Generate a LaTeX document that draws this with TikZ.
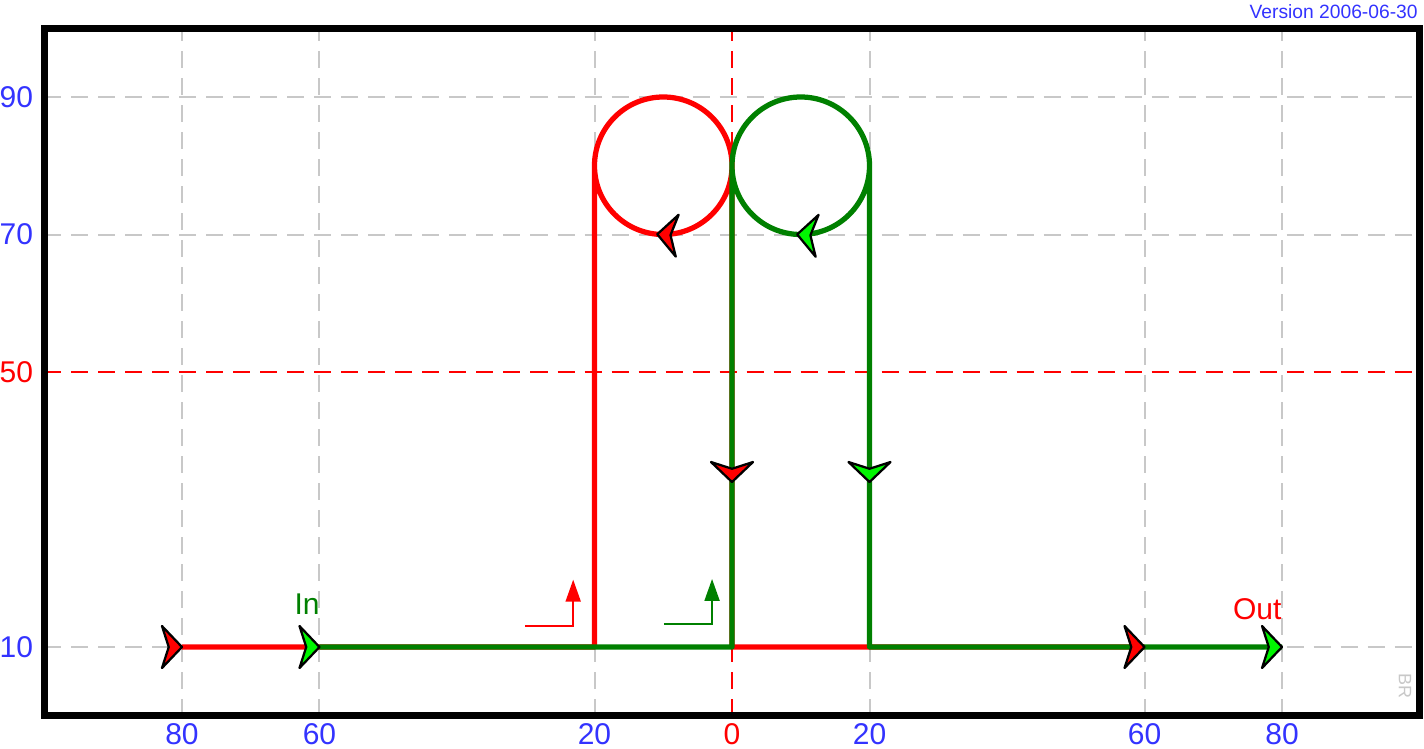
\documentclass[tikz,border=0pt]{standalone}
\usepackage{fontspec}
\setmainfont{Liberation Sans}
\usetikzlibrary{arrows.meta}
\definecolor{axisblue}{RGB}{51,51,255}
\definecolor{pathgreen}{RGB}{0,128,0}
\definecolor{tipgreen}{RGB}{0,245,0}
\definecolor{gridgray}{RGB}{200,200,200}
\begin{document}
\begin{tikzpicture}[x=2.75pt, y=2.75pt,
  gridline/.style={gridgray, line width=0.8pt, dash pattern=on 6.8pt off 4pt},
  axisline/.style={red, line width=0.8pt, dash pattern=on 6.8pt off 4pt},
  redpath/.style={red, line width=2.1pt, line join=round},
  greenpath/.style={pathgreen, line width=2.1pt, line join=round},
  lbl/.style={font=\fontsize{12}{14}\selectfont, inner sep=0pt},
  pics/flowtip/.style={code={\filldraw[fill=#1, draw=black, line width=0.9pt, line join=round] (0,0) -- (-8pt,8.4pt) -- (-5.3pt,0) -- (-8pt,-8.4pt) -- cycle;}}]
\useasboundingbox (-106.47,-4.69) rectangle (100.65,104.11);
\foreach \x in {-80,-60,-20,20,60,80}
  \draw[gridline] (\x,0) -- (\x,100);
\foreach \y in {10,70,90}
  \draw[gridline] (-100,\y) -- (100,\y);
\draw[axisline] (0,0) -- (0,100);
\draw[axisline] (-100,50) -- (100,50);
\draw[line width=2.8pt] (-100,0) rectangle (100,100);
\foreach \x/\t [count=\i] in {-80/80,-60/60,-20/20,20/20,60/60,80/80}
  \node[lbl, text=axisblue] (xlab\i) at (\x,-2.65) {\t};
\node[lbl, text=red] (xlab0) at (0,-2.65) {0};
\foreach \y [count=\i] in {10,70,90}
  \node[lbl, text=axisblue] (ylab\i) at (-104.1,\y) {\y};
\node[lbl, text=red] (ylab0) at (-104.1,50) {50};
\node[anchor=east, inner sep=0pt, text=axisblue, font=\fontsize{7.7}{9}\selectfont] (version) at (99.8,102.4) {Version 2006-06-30};
\node[rotate=-90, inner sep=0pt, text=gridgray, font=\fontsize{7.2}{8}\selectfont] (sign) at (97.9,4.3) {BR};
\coordinate (redin) at (-80,10);
\coordinate (greenin) at (-60,10);
\coordinate (redup) at (-20,10);
\coordinate (redloop) at (-20,80);
\coordinate (greenup) at (0,10);
\coordinate (greenloop) at (0,80);
\coordinate (greendown) at (20,10);
\coordinate (redout) at (60,10);
\coordinate (greenout) at (80,10);
\coordinate (redcenter) at (-10,80);
\coordinate (greencenter) at (10,80);
\draw[redpath] (redin) -- (redup) -- (redloop) arc[start angle=180, end angle=-360, radius=10] -- (greenup) -- (redout);
\draw[greenpath] (greenin) -- (greenup) -- (greenloop) arc[start angle=180, end angle=-360, radius=10] -- (greendown) -- (greenout);
\pic at (redin) {flowtip=red};
\pic at (greenin) {flowtip=tipgreen};
\pic at (redout) {flowtip=red};
\pic at (greenout) {flowtip=tipgreen};
\pic[rotate=-90] at (0,34) {flowtip=red};
\pic[rotate=-90] at (20,34) {flowtip=tipgreen};
\pic[rotate=176] at ([shift={(265:10)}]redcenter) {flowtip=red};
\pic[rotate=176] at ([shift={(267:10)}]greencenter) {flowtip=tipgreen};
\node[lbl, text=pathgreen] (inlabel) at (-61.8,16.25) {In};
\node[lbl, text=red] (outlabel) at (76.4,15.5) {Out};
\coordinate (redkink0) at (-30.1,13.05);
\coordinate (redkink1) at (-23.1,13.05);
\coordinate (redkink2) at (-23.1,19.8);
\coordinate (greenkink0) at (-9.9,13.35);
\coordinate (greenkink1) at (-2.9,13.35);
\coordinate (greenkink2) at (-2.9,19.9);
\draw[red, line width=0.8pt, -{Triangle[length=8.8pt, width=6pt]}] (redkink0) -- (redkink1) -- (redkink2);
\draw[pathgreen, line width=0.8pt, -{Triangle[length=8.8pt, width=6pt]}] (greenkink0) -- (greenkink1) -- (greenkink2);
\end{tikzpicture}
\end{document}
